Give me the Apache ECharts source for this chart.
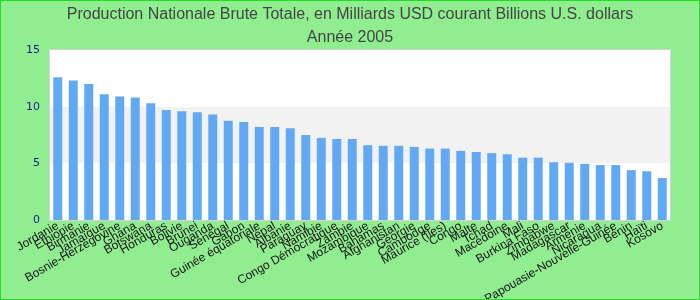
<!DOCTYPE html>
<html>
<head>
<meta charset="utf-8">
<script src="https://cdn.jsdelivr.net/npm/echarts@6/dist/echarts.min.js"></script>
<style>
html,body{margin:0;padding:0;}
#c{width:698px;height:298px;border:1px solid #22dd22;background:#90EE90;}
</style>
</head>
<body>
<div id="c"></div>
<script>
const categories = ["Jordanie","Ethiopie","Birmanie","Jamaïque","Bosnie-Herzégovine","Ghana","Botswana","Honduras","Bolivie","Brunei","Ouganda","Sénégal","Gabon","Guinée équatoriale","Népal","Albanie","Paraguay","Namibie","Congo Démocratique","Zambie","Mozambique","Bahamas","Afghanistan","Géorgie","Cambodge","Maurice (îles)","Congo","Malte","Tchad","Macédoine","Mali","Burkina Faso","Zimbabwe","Madagascar","Arménie","Nicaragua","Papouasie-Nouvelle-Guinée","Bénin","Haïti","Kosovo"];
const values = [12.6,12.3,12.0,11.1,10.9,10.8,10.3,9.7,9.6,9.5,9.3,8.75,8.65,8.2,8.2,8.1,7.5,7.25,7.15,7.15,6.6,6.55,6.55,6.45,6.3,6.3,6.1,6.0,5.9,5.8,5.5,5.5,5.1,5.05,4.95,4.85,4.85,4.4,4.3,3.7];
const yTicks = [0,5,10,15];
const titleLines = ["Production Nationale Brute Totale, en Milliards USD courant Billions U.S. dollars","Année 2005"];

const chart = echarts.init(document.getElementById('c'));
chart.setOption({
  backgroundColor: '#90EE90',
  animation: false,
  title: {
    text: titleLines.join('\n'),
    left: 'center',
    top: -3,
    textStyle: {fontFamily: '"Liberation Sans", Arial, sans-serif', fontSize: 16, fontWeight: 'normal', color: '#444', lineHeight: 23}
  },
  grid: {left: 49, right: 29, top: 49, bottom: 79, containLabel: false, outerBoundsMode: 'none', show: true, borderColor: '#d4d4d4', borderWidth: 2, backgroundColor: '#fff'},
  xAxis: {
    type: 'category',
    data: categories,
    axisTick: {show: false},
    axisLine: {show: false},
    axisLabel: {interval: 0, rotate: 30, fontSize: 12, color: '#111', fontFamily: '"Liberation Sans", Arial, sans-serif', margin: 5}
  },
  yAxis: {
    type: 'value',
    min: yTicks[0], max: yTicks[yTicks.length-1], interval: 5,
    axisLine: {show: false},
    axisTick: {show: false},
    splitLine: {show: false},
    splitArea: {show: true, areaStyle: {color: ['#ffffff', '#f2f2f2']}},
    axisLabel: {fontSize: 11, color: '#1a1a9a', fontFamily: '"DejaVu Sans", sans-serif', margin: 10}
  },
  series: [{
    type: 'bar',
    data: values,
    barWidth: '58%',
    itemStyle: {color: '#62a9f4'}
  }]
});
</script>
</body>
</html>
